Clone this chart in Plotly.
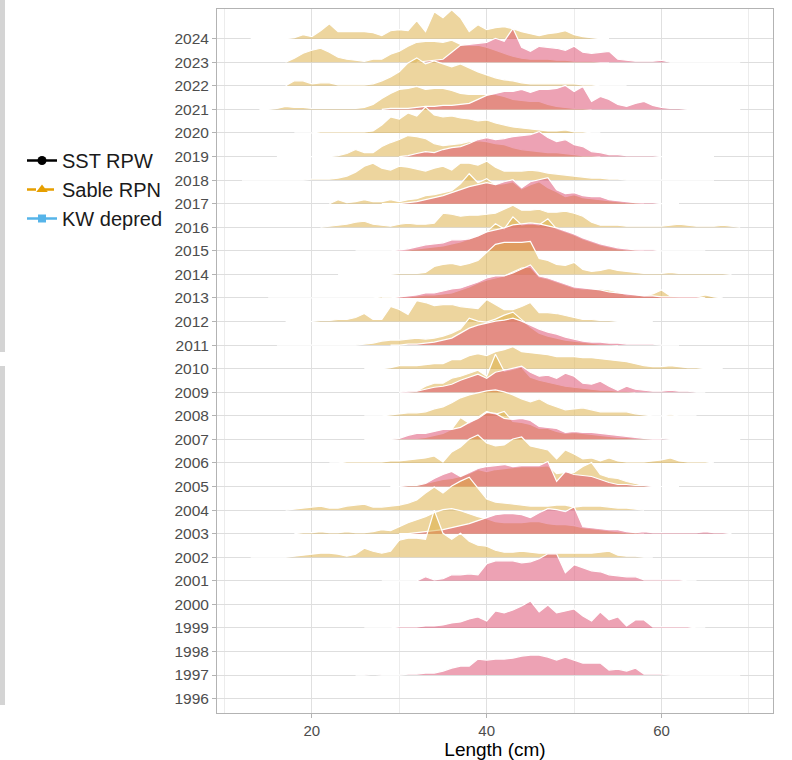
import plotly.graph_objects as go

# Year rows shown on the y axis and length ticks on the x axis
years = list(range(1996, 2025))
length_ticks = [20, 40, 60]
length_minor_ticks = [10, 30, 50, 70]

# Length compositions per year: (first length bin in cm, relative frequency per 1-cm bin)
# Fishery (tan) ridges
fishery_2024 = (13, [0, 0, 0, 0, 0, 1, 4, 2, 8, 15, 7, 7, 7, 7, 6, 3, 8, 9, 8, 18, 7, 27, 21, 29, 21,
                     7, 14, 9, 11, 12, 10, 7, 5, 3, 5, 6, 8, 4, 2, 1, 0, 0])
fishery_2023 = (17, [0, 4, 9, 12, 14, 10, 5, 3, 2, 1, 3, 3, 8, 11, 16, 20, 21, 21, 20, 22, 18, 17, 17,
                     15, 12, 9, 6, 4, 3, 3, 3, 2, 2, 1, 1, 1, 0, 0])
fishery_2022 = (17, [0, 5, 5, 2, 3, 3, 1, 1, 1, 1, 2, 5, 9, 14, 23, 28, 22, 25, 22, 19, 22, 18, 14, 11,
                     8, 6, 5, 3, 2, 2, 2, 2, 2, 2, 1, 1, 0, 0, 0, 0])
fishery_2021 = (14, [0, 0, 1, 3, 2, 2, 1, 1, 1, 1, 1, 1, 2, 5, 11, 16, 20, 21, 23, 20, 21, 21, 19, 16,
                     15, 15, 15, 15, 13, 10, 9, 8, 8, 5, 3, 2, 1, 1, 0])
fishery_2020 = (18, [0, 0, 0, 1, 1, 1, 1, 1, 1, 2, 8, 16, 14, 20, 17, 26, 18, 16, 17, 15, 14, 12, 13,
                     10, 8, 6, 5, 4, 3, 2, 2, 3, 1, 1, 0, 0])
fishery_2019 = (16, [0, 0, 0, 0, 0, 0, 0, 1, 3, 7, 4, 4, 10, 14, 17, 21, 20, 18, 13, 11, 12, 13, 15,
                     16, 15, 13, 12, 9, 7, 6, 5, 4, 4, 3, 2, 1, 1, 0])
fishery_2018 = (12, [0, 0, 0, 0, 0, 0, 0, 0,
                     1, 1, 1, 2, 4, 8, 14, 17, 12, 10, 14, 13, 11, 9, 12, 14, 10, 17, 17, 15,
                     19, 13, 9, 9, 9, 10, 9, 7, 6, 5, 4, 3, 2, 2, 1, 1,
                     0, 0, 0, 0, 0, 0, 0, 0, 0, 0, 0])
fishery_2017 = (22, [0, 4, 1, 2, 4, 2, 2, 4, 2, 4, 5, 8, 9, 11, 13, 20, 30, 21, 25, 19, 20, 22, 15,
                     19, 22, 16, 12, 7, 9, 6, 5, 4, 3, 2, 1, 1, 0])
fishery_2016 = (21, [0, 1, 2, 3, 5, 6, 3, 2, 1, 3, 4, 3, 3, 4, 14, 13, 11, 12, 12, 13, 14, 18, 22, 17,
                     17, 18, 15, 15, 16, 14, 11, 5, 2, 2, 2, 1, 1, 1, 1, 1, 2, 3, 2, 1, 1, 1, 2, 1, 0])
fishery_2015 = (30, [0, 1, 2, 3, 4, 5, 7, 9, 12, 15, 19, 27, 22, 34, 26, 27, 26, 32, 22, 19, 16, 12,
                     9, 6, 4, 2, 1, 1, 0])
fishery_2014 = (23, [0, 0, 0, 0, 0, 0, 0,
                     1, 1, 1, 2, 8, 10, 11, 9, 11, 14, 22, 30, 32, 32, 32, 33, 16, 14, 10, 9,
                     12, 5, 3, 4, 6, 4, 3, 2, 1, 1, 1, 2, 1, 1, 1, 1, 1, 1, 0])
fishery_2013 = (15, [0, 0, 0, 0, 0, 0, 0, 0, 0, 0, 0, 0, 0,
                     1, 1, 1, 1, 2, 3, 3, 4, 5, 8, 11, 15, 18, 20, 22, 26, 30, 31, 21, 19, 16,
                     13, 10, 9, 9, 9, 8, 6, 3, 3, 2, 4, 8, 2, 1, 1, 1, 3, 1, 0])
fishery_2012 = (17, [0, 0, 0, 0, 1, 1, 2, 2, 4, 8, 2, 2, 15, 12, 7, 21, 19, 16, 17, 17, 15, 14, 13,
                     22, 17, 12, 12, 15, 19, 9, 9, 8, 6, 4, 2, 2, 1, 1, 0, 0, 0, 0, 0])
fishery_2011 = (16, [0, 0, 0, 0, 0, 0, 0, 0, 0, 0,
                     1, 2, 4, 5, 5, 6, 7, 6, 7, 9, 12, 16, 27, 24, 23, 26, 30, 33, 25, 18, 12,
                     9, 7, 5, 4, 3, 2, 1, 1, 0])
fishery_2010 = (26, [0, 0, 0, 1, 3, 3, 3, 4, 5, 5, 9, 9, 13, 15, 13, 17, 19, 22, 17, 16, 15, 14, 12,
                     12, 12, 11, 11, 10, 9, 8, 7, 5, 3, 2, 2, 3, 2, 1, 1, 0, 0, 0])
fishery_2009 = (30, [0, 0, 1, 6, 9, 9, 14, 16, 19, 22, 16, 38, 21, 23, 25, 15, 12, 10, 8, 6, 5, 4, 3,
                     2, 2, 1, 1, 0])
fishery_2008 = (26, [0, 0, 0, 1, 2, 3, 3, 4, 7, 9, 13, 18, 21, 23, 25, 26, 24, 21, 17, 14, 17, 12, 9,
                     6, 7, 8, 6, 4, 4, 4, 4, 2, 1, 0, 0, 1, 0, 0, 0])
fishery_2007 = (26, [0, 0, 0, 0, 1, 1, 1, 2, 4, 6, 10, 22, 16, 22, 28, 25, 28, 18, 17, 15, 11, 11, 8,
                     6, 7, 6, 5, 4, 3, 2, 2, 1, 1, 0, 0])
fishery_2006 = (22, [0, 0, 1, 1, 1, 1, 1, 2, 2, 3, 4, 5, 7, 1, 11, 16, 24, 28, 20, 17, 18, 24, 26, 17,
                     15, 13, 4, 13, 9, 4, 5, 2, 5, 2, 1, 1, 1, 2, 3, 5, 2, 1, 1, 1, 0])
fishery_2005 = (29, [0, 0, 1, 2, 3, 5, 7, 8, 10, 13, 17, 15, 17, 18, 19, 20, 20, 20, 21, 13, 14, 14,
                     20, 24, 12, 9, 8, 5, 3, 1, 0])
fishery_2004 = (17, [0, 1, 2, 3, 4, 2, 2, 4, 5, 6, 3, 3, 4, 5, 7, 10, 17, 23, 17, 24, 29, 33, 22, 11,
                     8, 7, 6, 5, 4, 4, 4, 5, 5, 3, 4, 4, 4, 3, 2, 2, 1, 0])
fishery_2003 = (18, [0, 1, 1, 2, 1, 1, 2, 1, 1, 2, 4, 3, 7, 11, 14, 17, 21, 24, 25, 23, 20, 17, 15,
                     12, 11, 11, 11, 12, 12, 10, 9, 9, 8, 6, 5, 4, 3, 2, 1, 1, 0])
fishery_2002 = (13, [0, 0, 0, 0, 0, 1, 2, 3, 4, 4, 3, 1, 3, 9, 6, 4, 6, 17, 19, 19, 18, 47, 24, 18,
                     24, 16, 12, 11, 7, 5, 5, 6, 5, 4, 4, 4, 4, 4, 4, 4, 5, 6, 2, 1, 1, 0, 0])

# Survey (pink) ridges
survey_2023 = (32, [0, 1, 2, 3, 10, 17, 18, 19, 20, 24, 21, 34, 15, 11, 16, 15, 14, 12, 16, 10, 9, 10,
                    11, 3, 2, 1, 1, 1, 2, 0, 0, 0, 0, 0, 0, 0, 0, 0])
survey_2021 = (28, [0, 1, 1, 1, 2, 3, 3, 4, 4, 5, 6, 10, 14, 16, 18, 18, 20, 17, 20, 20, 21, 24, 18,
                    23, 8, 13, 10, 5, 3, 6, 8, 4, 2, 1, 1, 0, 0, 0, 0, 0, 0, 0])
survey_2019 = (30, [0, 1, 3, 5, 4, 7, 9, 10, 13, 17, 19, 17, 18, 20, 21, 22, 25, 19, 15, 17, 12, 10,
                    5, 4, 2, 2, 1, 1, 1, 1, 0, 0, 0, 0, 0, 0, 0])
survey_2017 = (28, [0, 0, 0, 1, 2, 4, 6, 8, 11, 14, 17, 19, 21, 19, 22, 24, 16, 22, 24, 26, 14, 10,
                    11, 8, 7, 7, 4, 3, 2, 1, 1, 1, 0, 0, 0])
survey_2015 = (25, [0, 0, 0, 0, 0, 1, 2, 4, 6, 7, 8, 11, 11, 12, 15, 19, 21, 23, 26, 27, 28, 27, 25,
                    23, 20, 17, 13, 10, 7, 5, 3, 2, 1, 1, 1, 0, 0, 0, 0, 0, 0])
survey_2013 = (28, [0, 0, 1, 2, 3, 5, 5, 7, 9, 10, 13, 16, 20, 22, 22, 25, 29, 33, 22, 20, 17, 14, 11,
                    10, 9, 8, 6, 5, 4, 3, 2, 2, 1, 1, 1, 1, 1, 0])
survey_2011 = (29, [0, 0, 1, 1, 2, 3, 5, 7, 12, 17, 20, 22, 24, 25, 27, 24, 20, 16, 13, 11, 8, 6, 4,
                    3, 3, 2, 2, 1, 1, 1, 1, 0, 0, 0])
survey_2009 = (30, [0, 1, 1, 3, 5, 6, 8, 12, 15, 18, 14, 20, 22, 24, 26, 20, 16, 17, 14, 19, 16, 9, 8,
                    11, 6, 2, 6, 3, 2, 1, 1, 2, 1, 1, 0, 0])
survey_2007 = (27, [0, 0, 0, 1, 4, 6, 6, 8, 10, 10, 12, 17, 21, 27, 26, 21, 20, 21, 19, 13, 12, 11, 7,
                    8, 7, 7, 6, 5, 4, 3, 2, 1, 1, 1, 0, 0, 0, 0, 0, 0, 0, 0, 0])
survey_2005 = (29, [0, 0, 1, 1, 3, 8, 12, 15, 10, 14, 18, 20, 21, 22, 20, 21, 21, 21, 25, 5, 15, 12,
                    11, 10, 7, 4, 2, 2, 1, 1, 0, 0, 0, 0])
survey_2003 = (30, [0, 0, 1, 2, 3, 4, 6, 8, 10, 13, 16, 19, 20, 20, 19, 16, 21, 25, 24, 22, 27, 7, 6,
                    5, 4, 4, 2, 1, 2, 1, 1, 1, 1, 1, 1, 2, 1, 1, 0])
survey_2001 = (28, [0, 0, 0, 0, 0, 4, 1, 2, 6, 6, 7, 6, 17, 20, 20, 20, 18, 19, 22, 27, 27, 8, 16, 13,
                    10, 9, 6, 5, 4, 4, 1, 1, 1, 1, 1, 0, 0])
survey_1999 = (26, [0, 0, 0, 0, 1, 1, 1, 2, 2, 3, 5, 6, 9, 11, 7, 17, 15, 18, 22, 27, 16, 23, 15, 17,
                    19, 12, 7, 16, 8, 11, 2, 8, 8, 1, 1, 1, 1, 1, 0, 0])
survey_1997 = (25, [0, 0, 1, 0, 0, 0, 1, 1, 2, 2, 4, 7, 9, 9, 16, 15, 16, 16, 17, 19, 20, 20, 18, 15,
                    18, 15, 12, 12, 12, 5, 6, 4, 7, 1, 1, 1, 0, 0, 0, 0, 0, 0, 0, 0, 0])

fishery = {
    2024: fishery_2024, 2023: fishery_2023, 2022: fishery_2022, 2021: fishery_2021,
    2020: fishery_2020, 2019: fishery_2019, 2018: fishery_2018, 2017: fishery_2017,
    2016: fishery_2016, 2015: fishery_2015, 2014: fishery_2014, 2013: fishery_2013,
    2012: fishery_2012, 2011: fishery_2011, 2010: fishery_2010, 2009: fishery_2009,
    2008: fishery_2008, 2007: fishery_2007, 2006: fishery_2006, 2005: fishery_2005,
    2004: fishery_2004, 2003: fishery_2003, 2002: fishery_2002,
}
survey = {
    2023: survey_2023, 2021: survey_2021, 2019: survey_2019, 2017: survey_2017,
    2015: survey_2015, 2013: survey_2013, 2011: survey_2011, 2009: survey_2009,
    2007: survey_2007, 2005: survey_2005, 2003: survey_2003, 2001: survey_2001,
    1999: survey_1999, 1997: survey_1997,
}

TAN = "rgba(220,172,62,0.5)"
PINK = "rgba(219,70,105,0.5)"
RIDGE_SCALE = 1 / 23.6   # rows of height per frequency unit
FONT = "Liberation Sans, Arial, sans-serif"

fig = go.Figure()


def add_ridge(year, series, fillcolor):
    start, freq = series
    xs = [start + i for i in range(len(freq))]
    fig.add_trace(go.Scatter(x=xs, y=[year] * len(xs), mode="lines",
                             line=dict(width=0), hoverinfo="skip", showlegend=False))
    fig.add_trace(go.Scatter(x=xs, y=[year + f * RIDGE_SCALE for f in freq], mode="lines",
                             fill="tonexty", fillcolor=fillcolor,
                             line=dict(color="white", width=1.2),
                             hoverinfo="skip", showlegend=False))


# top rows first so lower ridges overlap the ones above
for yr in sorted(years, reverse=True):
    if yr in fishery:
        add_ridge(yr, fishery[yr], TAN)
    if yr in survey:
        add_ridge(yr, survey[yr], PINK)

# legend entries
legend_items = [
    ("SST RPW", "black", "solid", "circle", 9),
    ("Sable RPN", "#E69F00", "dash", "triangle-up", 10),
    ("KW depred", "#56B4E9", "solid", "square", 8),
]
for name, color, dash, symbol, size in legend_items:
    fig.add_trace(go.Scatter(x=[None], y=[None], mode="lines+markers", name=name,
                             line=dict(color=color, width=2.5, dash=dash),
                             marker=dict(symbol=symbol, size=size, color=color)))

W_PLOT = 556
H_PLOT = 704
fig.update_layout(
    width=792, height=760,
    margin=dict(l=217, r=19, t=9, b=47),
    plot_bgcolor="white", paper_bgcolor="white",
    font=dict(family=FONT),
    legend=dict(x=(22 - 217) / W_PLOT, y=(713 - 141) / H_PLOT, xanchor="left", yanchor="top",
                font=dict(size=20, color="#1a1a1a", family=FONT), traceorder="normal",
                bgcolor="rgba(0,0,0,0)", itemwidth=30, tracegroupgap=0),
    shapes=[
        dict(type="rect", xref="paper", yref="paper",
             x0=-217 / W_PLOT, x1=-212 / W_PLOT, y0=(713 - 352) / H_PLOT, y1=(713 + 5) / H_PLOT,
             fillcolor="#d4d4d4", line=dict(width=0), layer="above"),
        dict(type="rect", xref="paper", yref="paper",
             x0=-217 / W_PLOT, x1=-212 / W_PLOT, y0=(713 - 705) / H_PLOT, y1=(713 - 366) / H_PLOT,
             fillcolor="#d4d4d4", line=dict(width=0), layer="above"),
    ],
)
fig.update_xaxes(
    range=[9.15, 72.75], tickvals=length_ticks, ticktext=[str(t) for t in length_ticks],
    showgrid=True, gridcolor="#e0e0e0", gridwidth=1, zeroline=False, automargin=False,
    minor=dict(tickvals=length_minor_ticks, showgrid=True, gridcolor="#ececec", gridwidth=0.6),
    showline=True, mirror=True, linecolor="#b3b3b3", linewidth=1,
    ticks="outside", ticklen=4, tickcolor="#b3b3b3",
    tickfont=dict(size=15, color="#4d4d4d", family=FONT),
    title=dict(text="Length (cm)", font=dict(size=19, color="#000000", family=FONT), standoff=4),
)
fig.update_yaxes(
    range=[1995.39, 2025.26], tickvals=years, ticktext=[str(y) for y in years],
    showgrid=True, gridcolor="#dedede", gridwidth=1, zeroline=False, automargin=False,
    showline=True, mirror=True, linecolor="#b3b3b3", linewidth=1,
    ticks="outside", ticklen=4, tickcolor="#b3b3b3",
    tickfont=dict(size=15.5, color="#4d4d4d", family=FONT),
)

fig.write_html("out.html")
